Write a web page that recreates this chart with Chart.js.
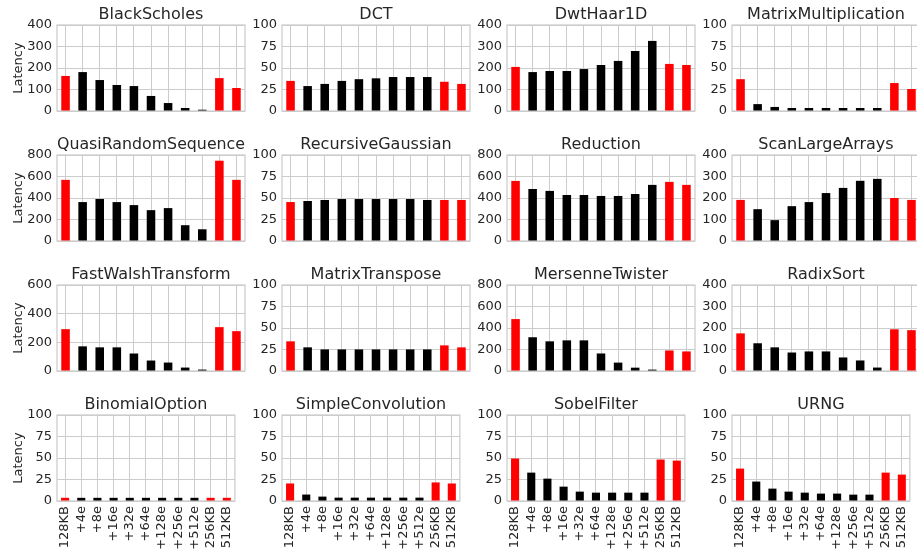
<!DOCTYPE html>
<html>
<head>
<meta charset="utf-8">
<script src="https://cdn.jsdelivr.net/npm/chart.js@4/dist/chart.umd.min.js"></script>
<style>
  html, body { margin: 0; padding: 0; background: #ffffff; overflow: hidden; }
  #grid { position: relative; width: 917px; height: 550px; overflow: hidden; background: #ffffff; }
  #grid canvas { position: absolute; }
</style>
</head>
<body>
<div id="grid"></div>
<script>
// Cache configurations on the x axis
const categories = ['128KB', '+4e', '+8e', '+16e', '+32e', '+64e', '+128e', '+256e', '+512e', '256KB', '512KB'];

// Benchmark names, one panel each (row-major)
const benchmarks = [
  'BlackScholes', 'DCT', 'DwtHaar1D', 'MatrixMultiplication',
  'QuasiRandomSequence', 'RecursiveGaussian', 'Reduction', 'ScanLargeArrays',
  'FastWalshTransform', 'MatrixTranspose', 'MersenneTwister', 'RadixSort',
  'BinomialOption', 'SimpleConvolution', 'SobelFilter', 'URNG'
];

// Latency per configuration
const blackScholes        = [163, 181, 144, 121, 116, 70, 37, 14, 6, 153, 107];
const dct                 = [35, 29, 31.5, 35, 37, 38, 39.5, 39.5, 39.5, 34, 31.5];
const dwtHaar1D           = [205, 181, 186, 186, 195, 214, 233, 279, 326, 219, 214];
const matrixMultiplication= [37, 8, 4.7, 3.5, 3.5, 3.5, 3.5, 3.5, 3.5, 32.5, 25.6];
const quasiRandomSequence = [569, 362, 391, 362, 334, 287, 306, 147, 109, 747, 569];
const recursiveGaussian   = [45.3, 46.5, 47.7, 48.8, 48.8, 48.8, 48.8, 48.8, 47.7, 47.7, 47.7];
const reduction           = [559, 484, 466, 428, 428, 419, 419, 437, 522, 550, 522];
const scanLargeArrays     = [191, 148, 97, 162, 181, 223, 247, 280, 289, 200, 191];
const fastWalshTransform  = [292, 172, 165, 165, 122, 73, 59, 24, 10, 306, 278];
const matrixTranspose     = [34.5, 27.5, 25.1, 25.1, 25.1, 25.1, 25.1, 25.1, 25.1, 29.8, 27.5];
const mersenneTwister     = [483, 314, 276, 285, 285, 163, 78, 31, 13, 191, 182];
const radixSort           = [175, 129, 110, 86, 91, 91, 63, 49, 16, 194, 190];
const binomialOption      = [3.7, 3.7, 3.7, 3.7, 3.7, 3.7, 3.7, 3.7, 3.7, 3.7, 3.7];
const simpleConvolution   = [20.4, 7.5, 5.1, 3.9, 3.9, 3.9, 3.9, 3.9, 3.9, 21.6, 20.4];
const sobelFilter         = [49.4, 33, 26, 16.7, 10.9, 9.7, 9.7, 9.7, 9.7, 48.2, 47];
const urng                = [37.7, 22.6, 14.4, 10.9, 9.7, 8.6, 8.6, 7.4, 7.4, 33, 30.7];

// Y axis range and tick step per panel
const yMax  = [400, 100, 400, 100, 800, 100, 800, 400, 600, 100, 800, 400, 100, 100, 100, 100];
const yStep = [100, 25, 100, 25, 200, 25, 200, 100, 200, 25, 200, 100, 25, 25, 25, 25];

const series = [
  blackScholes, dct, dwtHaar1D, matrixMultiplication,
  quasiRandomSequence, recursiveGaussian, reduction, scanLargeArrays,
  fastWalshTransform, matrixTranspose, mersenneTwister, radixSort,
  binomialOption, simpleConvolution, sobelFilter, urng
];

// Panel geometry
const PLOT_W = 188, PLOT_H = 86;
const COL0 = 57, ROW0 = 25, COL_STEP = 225, ROW_STEP = 130;
const TITLE_H = 20;
const TEXT = '#262626';
const GRID = '#cccccc';
const FONT = 'DejaVu Sans';

// Bars for full-size caches are red, the extension variants black
const barColors = categories.map(c => c.endsWith('KB') ? '#ff0000' : '#000000');

// Light frame around each plotting area, beneath the bars
const framePlugin = {
  id: 'frame',
  beforeDatasetsDraw(chart) {
    const { ctx, chartArea: a } = chart;
    ctx.save();
    ctx.strokeStyle = GRID;
    ctx.lineWidth = 1.25;
    ctx.strokeRect(a.left, a.top, a.right - a.left, a.bottom - a.top);
    ctx.restore();
  }
};

const grid = document.getElementById('grid');

benchmarks.forEach((name, i) => {
  const row = Math.floor(i / 4), col = i % 4;
  const plotLeft = COL0 + col * COL_STEP;
  const plotTop = ROW0 + row * ROW_STEP;
  const yW = col === 0 ? 57 : 45;
  const xH = row === 3 ? 52 : 16;
  const padR = 3;
  const w = yW + PLOT_W + padR;
  const h = TITLE_H + PLOT_H + xH;

  const canvas = document.createElement('canvas');
  canvas.width = w; canvas.height = h;
  canvas.style.width = w + 'px'; canvas.style.height = h + 'px';
  canvas.style.left = (plotLeft - yW) + 'px';
  canvas.style.top = (plotTop - TITLE_H) + 'px';
  grid.appendChild(canvas);

  new Chart(canvas, {
    type: 'bar',
    data: {
      labels: categories,
      datasets: [{
        label: name,
        data: series[i],
        backgroundColor: barColors,
        borderWidth: 0,
        barPercentage: 0.5,
        categoryPercentage: 1.0
      }]
    },
    options: {
      responsive: false,
      animation: false,
      devicePixelRatio: 1,
      layout: { padding: { top: 0, right: padR, bottom: 0, left: 0 } },
      plugins: {
        legend: { display: false },
        tooltip: { enabled: false },
        title: {
          display: true,
          fullSize: false,
          text: name,
          color: TEXT,
          font: { family: FONT, size: 16, weight: 'normal', lineHeight: 1.2 },
          padding: { top: 0, bottom: 0.8 }
        }
      },
      scales: {
        x: {
          offset: true,
          grid: { display: true, offset: false, color: GRID, lineWidth: 1, drawTicks: false },
          border: { display: false },
          ticks: {
            display: row === 3,
            autoSkip: false,
            minRotation: 90,
            maxRotation: 90,
            padding: 5,
            color: TEXT,
            font: { family: FONT, size: 13 }
          },
          afterFit(scale) { scale.height = xH; }
        },
        y: {
          min: 0,
          max: yMax[i],
          grid: { color: GRID, lineWidth: 1, drawTicks: false },
          border: { display: false },
          ticks: {
            stepSize: yStep[i],
            padding: 5,
            color: TEXT,
            font: { family: FONT, size: 13 }
          },
          title: {
            display: col === 0,
            text: 'Latency',
            color: TEXT,
            font: { family: FONT, size: 13, lineHeight: 1.2 },
            padding: { top: 11, bottom: 0 }
          },
          afterFit(scale) { scale.width = yW; }
        }
      }
    },
    plugins: [framePlugin]
  });
});
</script>
</body>
</html>
